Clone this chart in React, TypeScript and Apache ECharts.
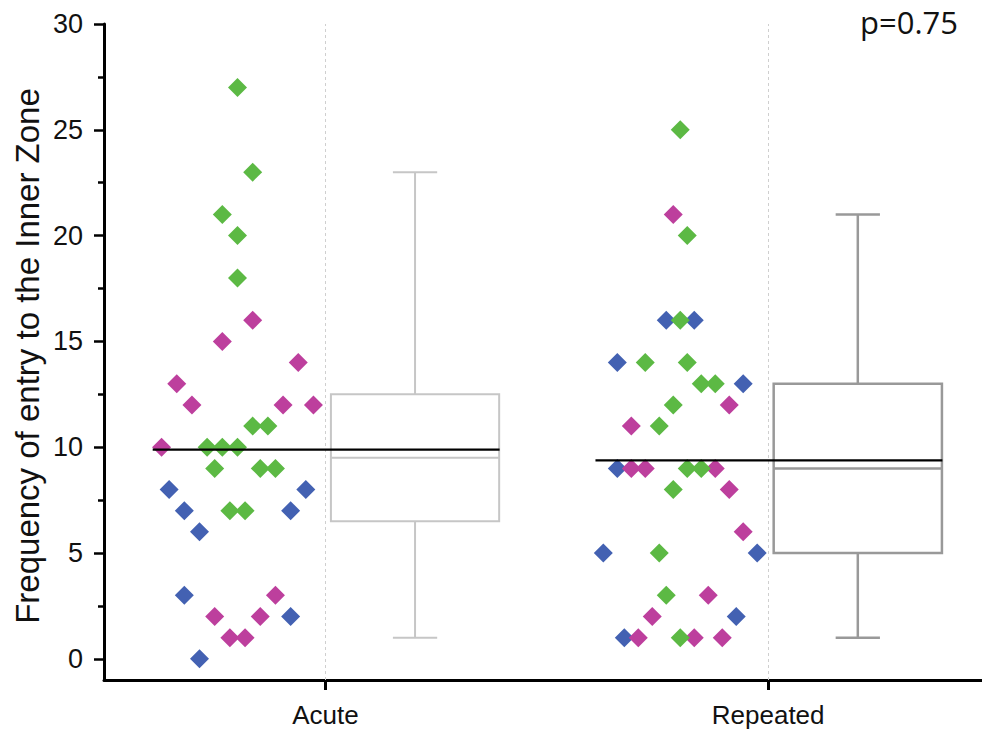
import React, { useEffect, useRef } from "react";
import * as echarts from "echarts";

// Groups on the x axis and where their ticks sit on the value scale
const categories = ["Acute", "Repeated"];
const categoryPositions = [1, 3];

// Y axis ticks
const yMajorTicks = [0, 5, 10, 15, 20, 25, 30];
const yMinorTicks = [2.5, 7.5, 12.5, 17.5, 22.5, 27.5];

// Acute group: individual values with their swarm slot (horizontal jitter step)
const acuteGreen = [27, 23, 21, 20, 18, 11, 11, 10, 10, 10, 9, 9, 9, 7, 7];
const acuteGreenSlots = [0, 2, -2, 0, 0, 2, 4, -4, -2, 0, -3, 3, 5, -1, 1];
const acuteMagenta = [16, 15, 14, 13, 12, 12, 12, 10, 3, 2, 2, 1, 1];
const acuteMagentaSlots = [2, -2, 8, -8, -6, 6, 10, -10, 5, -3, 3, -1, 1];
const acuteBlue = [8, 8, 7, 7, 6, 3, 2, 0];
const acuteBlueSlots = [-9, 9, -7, 7, -5, -7, 7, -5];

// Repeated group
const repeatedGreen = [25, 20, 16, 14, 14, 13, 13, 12, 11, 9, 9, 8, 5, 3, 1];
const repeatedGreenSlots = [0, 1, 0, -5, 1, 3, 5, -1, -3, 1, 3, -1, -3, -2, 0];
const repeatedMagenta = [21, 12, 11, 9, 9, 9, 8, 6, 3, 2, 1, 1, 1];
const repeatedMagentaSlots = [-1, 7, -7, -7, -5, 5, 7, 9, 4, -4, -6, 2, 6];
const repeatedBlue = [16, 16, 14, 13, 9, 5, 5, 2, 1];
const repeatedBlueSlots = [-2, 2, -9, 9, -9, -11, 11, 8, -8];

// Box summaries: [lower whisker, Q1, median, Q3, upper whisker]
const acuteBox = [1, 6.5, 9.5, 12.5, 23];
const repeatedBox = [1, 5, 9, 13, 21];

const pValueText = "p=0.75";
const yAxisTitle = "Frequency of entry to the Inner Zone";

const GREEN = "#5cb944";
const MAGENTA = "#bd3f9d";
const BLUE = "#4361b2";

// Layout of the swarm and box relative to each group tick
const SWARM_OFFSET = -0.397;
const BOX_OFFSET = 0.405;
const BOX_WIDTH = 0.76;
const CAP_WIDTH = 0.2;
const MEAN_LEFT = -0.78;
const MEAN_RIGHT = 0.787;
const SLOT_WIDTH = [0.0343, 0.0316];

const groups = [
  {
    green: [acuteGreen, acuteGreenSlots],
    magenta: [acuteMagenta, acuteMagentaSlots],
    blue: [acuteBlue, acuteBlueSlots],
    box: acuteBox,
    boxColor: "#c6c6c6",
    boxLine: 2,
  },
  {
    green: [repeatedGreen, repeatedGreenSlots],
    magenta: [repeatedMagenta, repeatedMagentaSlots],
    blue: [repeatedBlue, repeatedBlueSlots],
    box: repeatedBox,
    boxColor: "#999999",
    boxLine: 2.5,
  },
];

function swarmPoints(key: "green" | "magenta" | "blue") {
  const pts: number[][] = [];
  groups.forEach((g, gi) => {
    const [vals, slots] = g[key] as number[][];
    const center = categoryPositions[gi] + SWARM_OFFSET;
    vals.forEach((v, i) => pts.push([center + slots[i] * SLOT_WIDTH[gi], v]));
  });
  return pts;
}

function groupMean(gi: number) {
  const all = [...groups[gi].green[0], ...groups[gi].magenta[0], ...groups[gi].blue[0]];
  return all.reduce((a, b) => a + b, 0) / all.length;
}

export default function App() {
  const ref = useRef<HTMLDivElement>(null);

  useEffect(() => {
    if (!ref.current) return;
    const chart = echarts.init(ref.current, undefined, { renderer: "svg" });

    const boxData = groups.map((g, gi) => [categoryPositions[gi] + BOX_OFFSET, ...g.box, gi]);
    const meanData = groups.map((_, gi) => [
      categoryPositions[gi] + MEAN_LEFT,
      categoryPositions[gi] + MEAN_RIGHT,
      groupMean(gi),
    ]);

    const scatterBase = {
      type: "scatter" as const,
      symbol: "diamond",
      symbolSize: 19,
      z: 3,
      silent: true,
    };

    chart.setOption({
      animation: false,
      backgroundColor: "#ffffff",
      grid: { left: 104, right: 0, top: 24, bottom: 60, containLabel: false },
      xAxis: {
        type: "value",
        min: 0,
        max: 3.966,
        axisLine: { show: true, onZero: false, lineStyle: { color: "#000", width: 3 } },
        axisTick: { show: true, customValues: categoryPositions, length: 10, lineStyle: { color: "#000", width: 3 } },
        axisLabel: {
          customValues: categoryPositions,
          formatter: (v: number) => categories[categoryPositions.indexOf(v)] ?? "",
          fontFamily: "Liberation Sans",
          fontSize: 26,
          color: "#111",
          margin: 22,
        },
        splitLine: { show: false },
      },
      yAxis: [
        {
          type: "value",
          min: -1,
          max: 30,
          axisLine: { show: true, onZero: false, lineStyle: { color: "#000", width: 3 } },
          axisTick: { show: true, customValues: yMajorTicks, length: 10, lineStyle: { color: "#000", width: 2.5 } },
          axisLabel: {
            customValues: yMajorTicks,
            fontFamily: "Liberation Sans",
            fontSize: 27,
            color: "#111",
            margin: 21,
          },
          splitLine: { show: false },
        },
        {
          type: "value",
          min: -1,
          max: 30,
          position: "left",
          axisLine: { show: false },
          axisTick: { show: true, customValues: yMinorTicks, length: 6, lineStyle: { color: "#000", width: 2.5 } },
          axisLabel: { show: false },
          splitLine: { show: false },
        },
      ],
      graphic: [
        {
          type: "text",
          x: 27,
          y: 356,
          rotation: Math.PI / 2,
          style: {
            text: yAxisTitle,
            fontFamily: "Liberation Sans",
            fontSize: 33,
            fill: "#111",
            textAlign: "center",
            textVerticalAlign: "middle",
          },
        },
        {
          type: "text",
          x: 958,
          y: 22,
          style: {
            text: pValueText,
            fontFamily: "Open Sans",
            fontSize: 31,
            fill: "#111",
            textAlign: "right",
            textVerticalAlign: "middle",
          },
        },
      ],
      series: [
        {
          type: "scatter",
          data: [],
          silent: true,
          markLine: {
            silent: true,
            symbol: "none",
            label: { show: false },
            lineStyle: { color: "#cfcfcf", width: 1, type: [3, 3] },
            data: categoryPositions.map((p) => ({ xAxis: p })),
          },
        },
        {
          type: "custom",
          z: 2,
          silent: true,
          encode: { x: 0, y: [1, 2, 3, 4, 5] },
          data: boxData,
          renderItem: (_params: any, api: any) => {
            const cx = api.value(0);
            const gi = api.value(6);
            const color = groups[gi].boxColor;
            const lw = groups[gi].boxLine;
            const w = api.size([BOX_WIDTH, 0])[0];
            const cw = api.size([CAP_WIDTH, 0])[0];
            const [px, yMin] = api.coord([cx, api.value(1)]);
            const yQ1 = api.coord([cx, api.value(2)])[1];
            const yMed = api.coord([cx, api.value(3)])[1];
            const yQ3 = api.coord([cx, api.value(4)])[1];
            const yMax = api.coord([cx, api.value(5)])[1];
            const ls = { stroke: color, lineWidth: lw, fill: "none" };
            return {
              type: "group",
              children: [
                { type: "rect", shape: { x: px - w / 2, y: yQ3, width: w, height: yQ1 - yQ3 }, style: ls },
                { type: "line", shape: { x1: px - w / 2, y1: yMed, x2: px + w / 2, y2: yMed }, style: ls },
                { type: "line", shape: { x1: px, y1: yQ3, x2: px, y2: yMax }, style: ls },
                { type: "line", shape: { x1: px, y1: yQ1, x2: px, y2: yMin }, style: ls },
                { type: "line", shape: { x1: px - cw / 2, y1: yMax, x2: px + cw / 2, y2: yMax }, style: ls },
                { type: "line", shape: { x1: px - cw / 2, y1: yMin, x2: px + cw / 2, y2: yMin }, style: ls },
              ],
            };
          },
        },
        { ...scatterBase, name: "blue", itemStyle: { color: BLUE, opacity: 1 }, data: swarmPoints("blue") },
        { ...scatterBase, name: "magenta", itemStyle: { color: MAGENTA, opacity: 1 }, data: swarmPoints("magenta") },
        { ...scatterBase, name: "green", itemStyle: { color: GREEN, opacity: 1 }, data: swarmPoints("green") },
        {
          type: "custom",
          z: 5,
          silent: true,
          encode: { x: [0, 1], y: 2 },
          data: meanData,
          renderItem: (_params: any, api: any) => {
            const a = api.coord([api.value(0), api.value(2)]);
            const b = api.coord([api.value(1), api.value(2)]);
            return {
              type: "line",
              shape: { x1: a[0], y1: a[1], x2: b[0], y2: b[1] },
              style: { stroke: "#000", lineWidth: 2.2 },
            };
          },
        },
      ],
    });

    return () => chart.dispose();
  }, []);

  return (
    <div
      ref={ref}
      style={{ position: "fixed", left: 0, top: 0, width: 982, height: 740, background: "#fff" }}
    />
  );
}
